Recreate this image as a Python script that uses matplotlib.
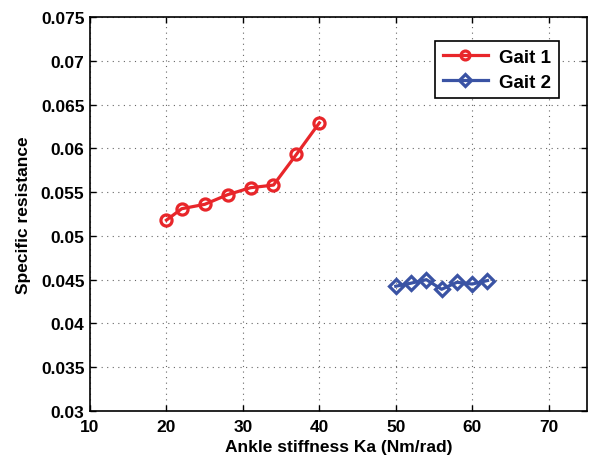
import matplotlib
matplotlib.use("Agg")
import matplotlib.pyplot as plt

plt.rcParams['font.family'] = ['Liberation Sans', 'DejaVu Sans']
plt.rcParams['font.weight'] = 'bold'

# data
gait1_k = [20, 22, 25, 28, 31, 34, 37, 40]
gait1_sr = [0.0518, 0.0531, 0.0536, 0.0547, 0.0555, 0.0558, 0.0593, 0.0629]
gait2_k = [50, 52, 54, 56, 58, 60, 62]
gait2_sr = [0.04425, 0.0446, 0.0450, 0.0439, 0.0447, 0.0445, 0.0449]

x_ticks = [10, 20, 30, 40, 50, 60, 70]
y_ticks = [0.03, 0.035, 0.04, 0.045, 0.05, 0.055, 0.06, 0.065, 0.07, 0.075]
y_labels = ['0.03', '0.035', '0.04', '0.045', '0.05', '0.055', '0.06', '0.065', '0.07', '0.075']

red = '#e8262a'
blue = '#3a53a4'

fig = plt.figure(figsize=(5.94, 4.6), dpi=100)
ax = fig.add_axes([0.1515, 0.1043, 0.8365, 0.8567])

ax.plot(gait1_k, gait1_sr, '-o', color=red, lw=2.3, ms=8, mfc='none', mew=2.3, label='Gait 1')
ax.plot(gait2_k, gait2_sr, '-D', color=blue, lw=2.3, ms=7.5, mfc='none', mew=2.3, label='Gait 2')

ax.set_xlim(10, 75)
ax.set_ylim(0.03, 0.075)
ax.set_xticks(x_ticks)
ax.set_yticks(y_ticks)
ax.set_yticklabels(y_labels)
ax.tick_params(direction='in', top=True, right=True, labelsize=12.5, length=4, width=1)
ax.tick_params(axis='x', pad=6)
ax.tick_params(axis='y', pad=4)
for lab in ax.get_xticklabels() + ax.get_yticklabels():
    lab.set_fontweight('bold')

ax.grid(True, linestyle=(0, (1, 4)), color='#666666', lw=0.8)
for s in ax.spines.values():
    s.set_linewidth(1.2)

ax.set_xlabel('Ankle stiffness Ka (Nm/rad)', fontsize=12.5, fontweight='bold', labelpad=3)
ax.set_ylabel('Specific resistance', fontsize=12.5, fontweight='bold', labelpad=7)

leg = ax.legend(loc='upper right', bbox_to_anchor=(0.962, 0.962), fontsize=13.5, fancybox=False,
                edgecolor='black', framealpha=1, handlelength=2.4, borderpad=0.4,
                labelspacing=0.4, handletextpad=0.6, markerscale=0.8)
leg.get_frame().set_linewidth(1.2)
for t in leg.get_texts():
    t.set_fontweight('bold')

fig.savefig('out.png', dpi=100)
